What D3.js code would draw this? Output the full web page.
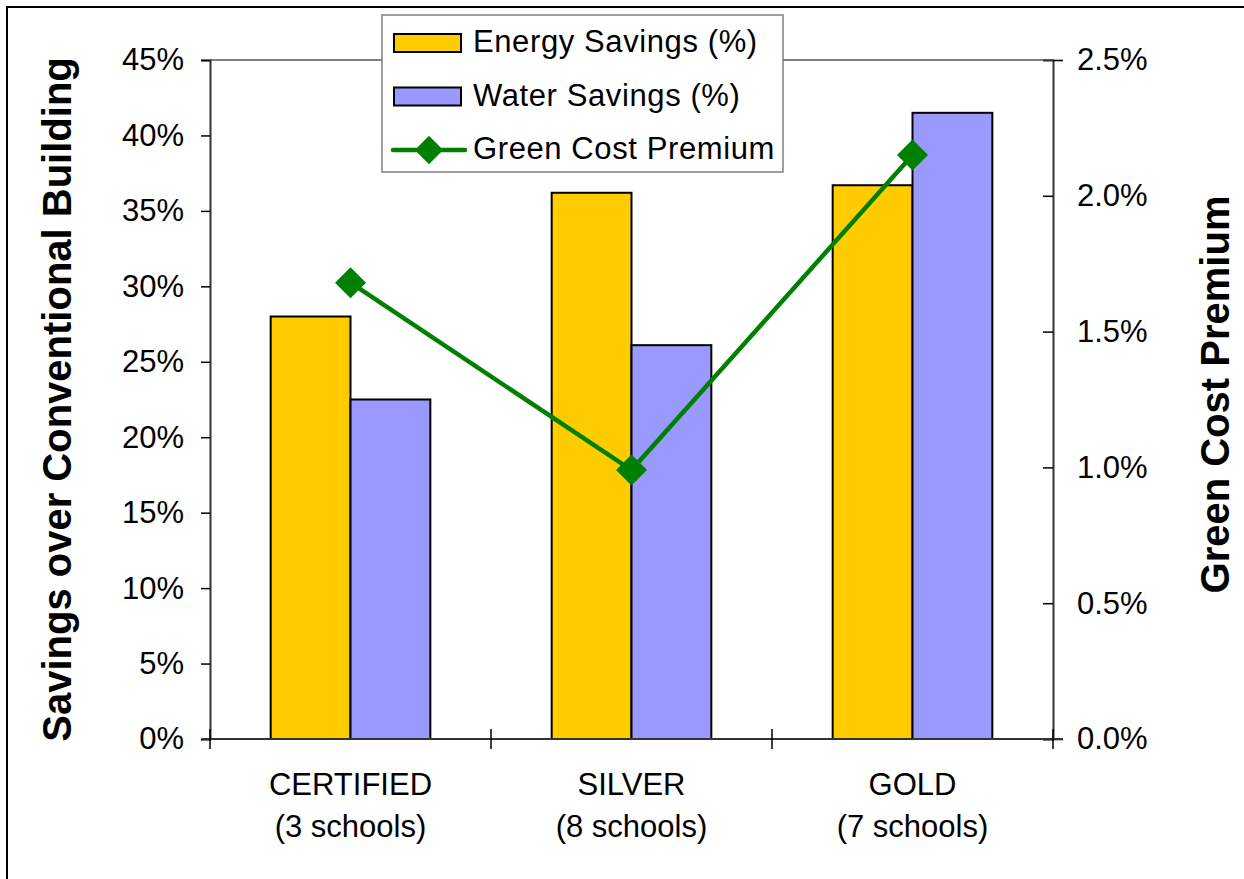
<!DOCTYPE html>
<html>
<head>
<meta charset="utf-8">
<script src="https://cdn.jsdelivr.net/npm/d3@7"></script>
<style>
  html, body { margin: 0; padding: 0; background: #fff; }
  svg { display: block; font-family: "Liberation Sans", Arial, sans-serif; }
</style>
</head>
<body>
<svg id="chart" width="1244" height="879"></svg>
<script>
// ── Data ───────────────────────────────────────────────────────────────────
const categories   = ["CERTIFIED", "SILVER", "GOLD"];
const schoolCounts = ["(3 schools)", "(8 schools)", "(7 schools)"];
const energySavings = [28.0, 36.2, 36.7];   // %
const waterSavings  = [22.5, 26.1, 41.5];   // %
const costPremium   = [1.68, 0.99, 2.15];   // %
const leftTicks  = [0, 5, 10, 15, 20, 25, 30, 35, 40, 45];
const rightTicks = [0, 0.5, 1.0, 1.5, 2.0, 2.5];

const SERIES = [
    { key: "energy", label: "Energy Savings (%)", color: "#FFCC00", values: energySavings },
    { key: "water",  label: "Water Savings (%)",  color: "#9999FF", values: waterSavings },
];
const LINE_COLOR = "#008000";

const plot = { left: 210, right: 1053, top: 60, bottom: 739 };
const svg = d3.select("#chart");

// ── Frame (top + left edges only) ──────────────────────────────────────────
svg.append("path")
    .attr("d", "M7,879 V7 H1244")
    .attr("fill", "none").attr("stroke", "#000").attr("stroke-width", 2);

// ── Scales ─────────────────────────────────────────────────────────────────
const x = d3.scaleBand().domain(categories).range([plot.left, plot.right]).padding(0);
const x1 = d3.scaleBand().domain(SERIES.map(s => s.key))
    .range([0, x.bandwidth()]).paddingInner(0).paddingOuter(0.76);
const yL = d3.scaleLinear().domain([0, 45]).range([plot.bottom, plot.top]);
const yR = d3.scaleLinear().domain([0, 2.5]).range([plot.bottom, plot.top]);

// top border of plot area
svg.append("line")
    .attr("x1", plot.left).attr("x2", plot.right)
    .attr("y1", yL(45)).attr("y2", yL(45))
    .attr("stroke", "#808080").attr("stroke-width", 2);

// ── Bars ───────────────────────────────────────────────────────────────────
const groups = svg.append("g").selectAll("g")
    .data(categories).join("g")
    .attr("transform", d => `translate(${x(d)},0)`);

groups.selectAll("rect")
    .data((d, i) => SERIES.map(s => ({ key: s.key, color: s.color, value: s.values[i] })))
    .join("rect")
    .attr("x", d => x1(d.key))
    .attr("width", x1.bandwidth())
    .attr("y", d => yL(d.value))
    .attr("height", d => yL(0) - yL(d.value))
    .attr("fill", d => d.color)
    .attr("stroke", "#000").attr("stroke-width", 2);

// ── Axes ───────────────────────────────────────────────────────────────────
const leftAxis = svg.append("g")
    .attr("transform", `translate(${plot.left},0)`)
    .call(d3.axisLeft(yL).tickValues(leftTicks).tickSize(9).tickPadding(17)
        .tickFormat(d => d + "%"));

const rightAxis = svg.append("g")
    .attr("transform", `translate(${plot.right},0)`)
    .call(d3.axisRight(yR).tickValues(rightTicks).tickSize(-10).tickPadding(24)
        .tickFormat(d => d.toFixed(1) + "%"));

[leftAxis, rightAxis].forEach(ax => {
    ax.select(".domain").attr("stroke", "#333").attr("stroke-width", 2);
    ax.selectAll(".tick line").attr("stroke", "#000").attr("stroke-width", 1.5);
    ax.selectAll(".tick text")
        .attr("font-size", 31).attr("fill", "#000")
        .attr("font-family", "Liberation Sans, Arial, sans-serif");
});
rightAxis.select(".tick:last-of-type line").attr("x2", 10);
rightAxis.select(".tick:first-of-type line").attr("x1", -10).attr("x2", 10);

// category axis
const xAxis = svg.append("g");
xAxis.append("line")
    .attr("x1", plot.left - 8).attr("x2", plot.right + 10)
    .attr("y1", yL(0)).attr("y2", yL(0))
    .attr("stroke", "#333").attr("stroke-width", 2);
const bounds = categories.map(c => x(c)).concat([x.range()[1]]);
xAxis.selectAll("line.cat-tick")
    .data(bounds).join("line")
    .attr("class", "cat-tick")
    .attr("x1", d => d).attr("x2", d => d)
    .attr("y1", yL(0) - 10).attr("y2", yL(0) + 10)
    .attr("stroke", "#000").attr("stroke-width", 1.5);

const catLabels = xAxis.selectAll("text")
    .data(categories).join("text")
    .attr("x", d => x(d) + x.bandwidth() / 2)
    .attr("text-anchor", "middle")
    .attr("font-size", 31).attr("fill", "#000");
catLabels.append("tspan").attr("x", d => x(d) + x.bandwidth() / 2).attr("y", 795).text(d => d);
catLabels.append("tspan").attr("x", d => x(d) + x.bandwidth() / 2).attr("y", 837)
    .text((d, i) => schoolCounts[i]);

// ── Line + markers (right axis) ────────────────────────────────────────────
const lineData = categories.map((c, i) => ({ cat: c, value: costPremium[i] }));
const cx = d => x(d.cat) + x.bandwidth() / 2;

svg.append("path")
    .datum(lineData)
    .attr("fill", "none")
    .attr("stroke", LINE_COLOR).attr("stroke-width", 4.5)
    .attr("d", d3.line().x(cx).y(d => yR(d.value)));

const diamond = d3.symbol().type(d3.symbolSquare).size(480);
svg.append("g").selectAll("path")
    .data(lineData).join("path")
    .attr("d", diamond)
    .attr("transform", d => `translate(${cx(d)},${yR(d.value)}) rotate(45)`)
    .attr("fill", LINE_COLOR);

// ── Axis titles ────────────────────────────────────────────────────────────
svg.append("text")
    .attr("transform", `translate(71,${(plot.top + plot.bottom) / 2}) rotate(-90)`)
    .attr("text-anchor", "middle")
    .attr("font-size", 40).attr("font-weight", "bold").attr("fill", "#000")
    .text("Savings over Conventional Building");

svg.append("text")
    .attr("transform", `translate(1229,${(plot.top + plot.bottom) / 2 - 5}) rotate(-90)`)
    .attr("text-anchor", "middle")
    .attr("font-size", 40).attr("font-weight", "bold").attr("fill", "#000")
    .text("Green Cost Premium");

// ── Legend ─────────────────────────────────────────────────────────────────
const legend = svg.append("g");
legend.append("rect")
    .attr("x", 382).attr("y", 15).attr("width", 401).attr("height", 157)
    .attr("fill", "#fff").attr("stroke", "#808080").attr("stroke-width", 1.5);

const legendItems = [
    { label: SERIES[0].label, type: "bar", color: SERIES[0].color },
    { label: SERIES[1].label, type: "bar", color: SERIES[1].color },
    { label: "Green Cost Premium", type: "line", color: LINE_COLOR },
];
legendItems.forEach((item, i) => {
    const cy = 43 + i * 53.5;
    if (item.type === "bar") {
        legend.append("rect")
            .attr("x", 394).attr("y", cy - 9).attr("width", 67).attr("height", 18)
            .attr("fill", item.color).attr("stroke", "#000").attr("stroke-width", 2);
    } else {
        legend.append("line")
            .attr("x1", 393).attr("x2", 465).attr("y1", cy).attr("y2", cy)
            .attr("stroke", item.color).attr("stroke-width", 4.5).attr("stroke-linecap", "round");
        legend.append("path")
            .attr("d", d3.symbol().type(d3.symbolSquare).size(400))
            .attr("transform", `translate(429,${cy}) rotate(45)`)
            .attr("fill", item.color);
    }
    legend.append("text")
        .attr("x", 473).attr("y", cy + 9)
        .attr("font-size", 31).attr("letter-spacing", 0.6).attr("fill", "#000")
        .text(item.label);
});
</script>
</body>
</html>
